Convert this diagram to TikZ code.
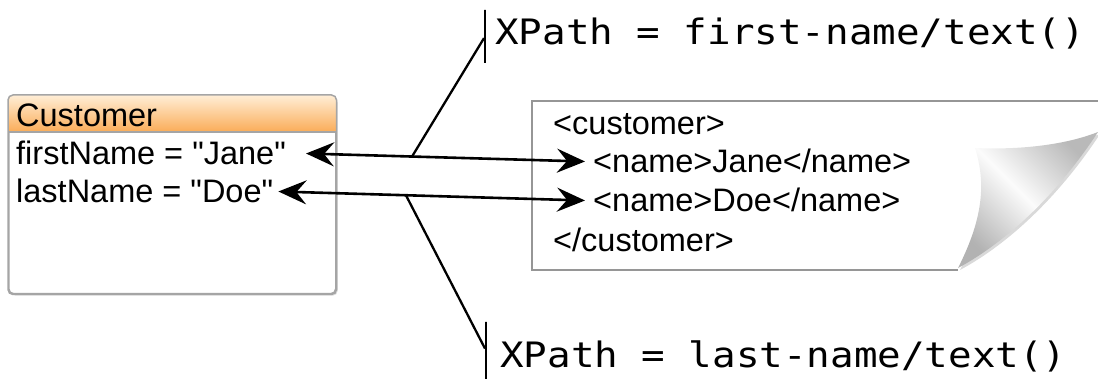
\documentclass[tikz,border=0pt]{standalone}
\usepackage{fontspec}
\setmainfont{Liberation Sans}[Ligatures=TeXOff]
\newfontfamily\xpathfont[FakeStretch=1.12]{DejaVu Sans Mono}
\usetikzlibrary{arrows.meta,shadows}
\definecolor{headtop}{RGB}{255,238,214}
\definecolor{headbottom}{RGB}{250,172,88}
\definecolor{boxline}{RGB}{165,165,165}
\definecolor{paperline}{RGB}{150,150,150}

\tikzset{
    classbox/.style={draw=boxline, line width=1.5pt, rounded corners=5pt, fill=white,
        drop shadow={opacity=0.25, shadow xshift=2pt, shadow yshift=-2pt}},
    attr/.style={anchor=base west, inner sep=0pt, text height=23pt, text depth=0pt,
        font=\fontsize{32.5}{38}\selectfont},
    xpath/.style={anchor=base west, inner sep=0pt, font=\xpathfont\fontsize{35}{40}\selectfont},
    bar/.style={draw, line width=2pt, minimum width=0pt, inner sep=0pt},
    link/.style={line width=2.6pt,
        {Stealth[length=28pt,width=24pt,inset=10pt]}-{Stealth[length=28pt,width=24pt,inset=10pt]}},
    branch/.style={line width=2.3pt},
}

\begin{document}
\begin{tikzpicture}[x=1pt, y=-1pt]
    \useasboundingbox (0,0) rectangle (1098,379);

    % customer object
    \node[classbox, anchor=north west, minimum width=327pt, minimum height=198pt] (cust) at (8,95) {};
    \begin{scope}
        \clip[rounded corners=5pt] (cust.north west) rectangle (cust.south east);
        \shade[top color=headtop, bottom color=headbottom] (cust.north west) rectangle ([yshift=-37pt]cust.north east);
    \end{scope}
    \draw[boxline, line width=1.2pt] ([yshift=-37pt]cust.north west) -- ([yshift=-37pt]cust.north east);
    \draw[boxline, line width=1.5pt, rounded corners=5pt] (cust.north west) rectangle (cust.south east);
    \node[attr] (custname) at (16,127) {Customer};
    \node[attr] (first) at (16,165) {firstName = "Jane"};
    \node[attr] (last) at (16,203) {lastName = "Doe"};

    % xml page with curl
    \draw[paperline, line width=1.5pt] (1098,101) -- (532,101) -- (532,270) -- (958,270);
    \shade[left color=gray!55, right color=gray!60, middle color=gray!3, shading angle=-45,
        drop shadow={opacity=0.3, shadow xshift=2pt, shadow yshift=-2pt}]
        (958,268) .. controls (985,215) and (985,180) .. (975,148)
        .. controls (1020,150) and (1065,145) .. (1098,132)
        .. controls (1060,190) and (1010,240) .. (958,268) -- cycle;
    \node[attr] (xopen) at (553,135) {<customer>};
    \node[attr] (xjane) at (593,173) {<name>Jane</name>};
    \node[attr] (xdoe) at (593,212) {<name>Doe</name>};
    \node[attr] (xclose) at (553,252) {</customer>};

    % xpath labels
    \node[bar, minimum height=53pt] (bar1) at (485,36.5) {};
    \node[bar, minimum height=57pt] (bar2) at (486,350.5) {};
    \node[xpath] (xpfirst) at (495,45) {XPath = first-name/text()};
    \node[xpath] (xplast) at (500,367) {XPath = last-name/text()};

    % mappings
    \draw[link] ([xshift=20pt]first.east) -- coordinate[pos=0.38] (fork1) ([xshift=-8pt]xjane.west);
    \draw[link] ([xshift=5pt]last.east) -- coordinate[pos=0.416] (fork2) ([xshift=-8pt]xdoe.west);
    \draw[branch] (fork1) -- (bar1);
    \draw[branch] (fork2) -- (bar2);
\end{tikzpicture}
\end{document}
